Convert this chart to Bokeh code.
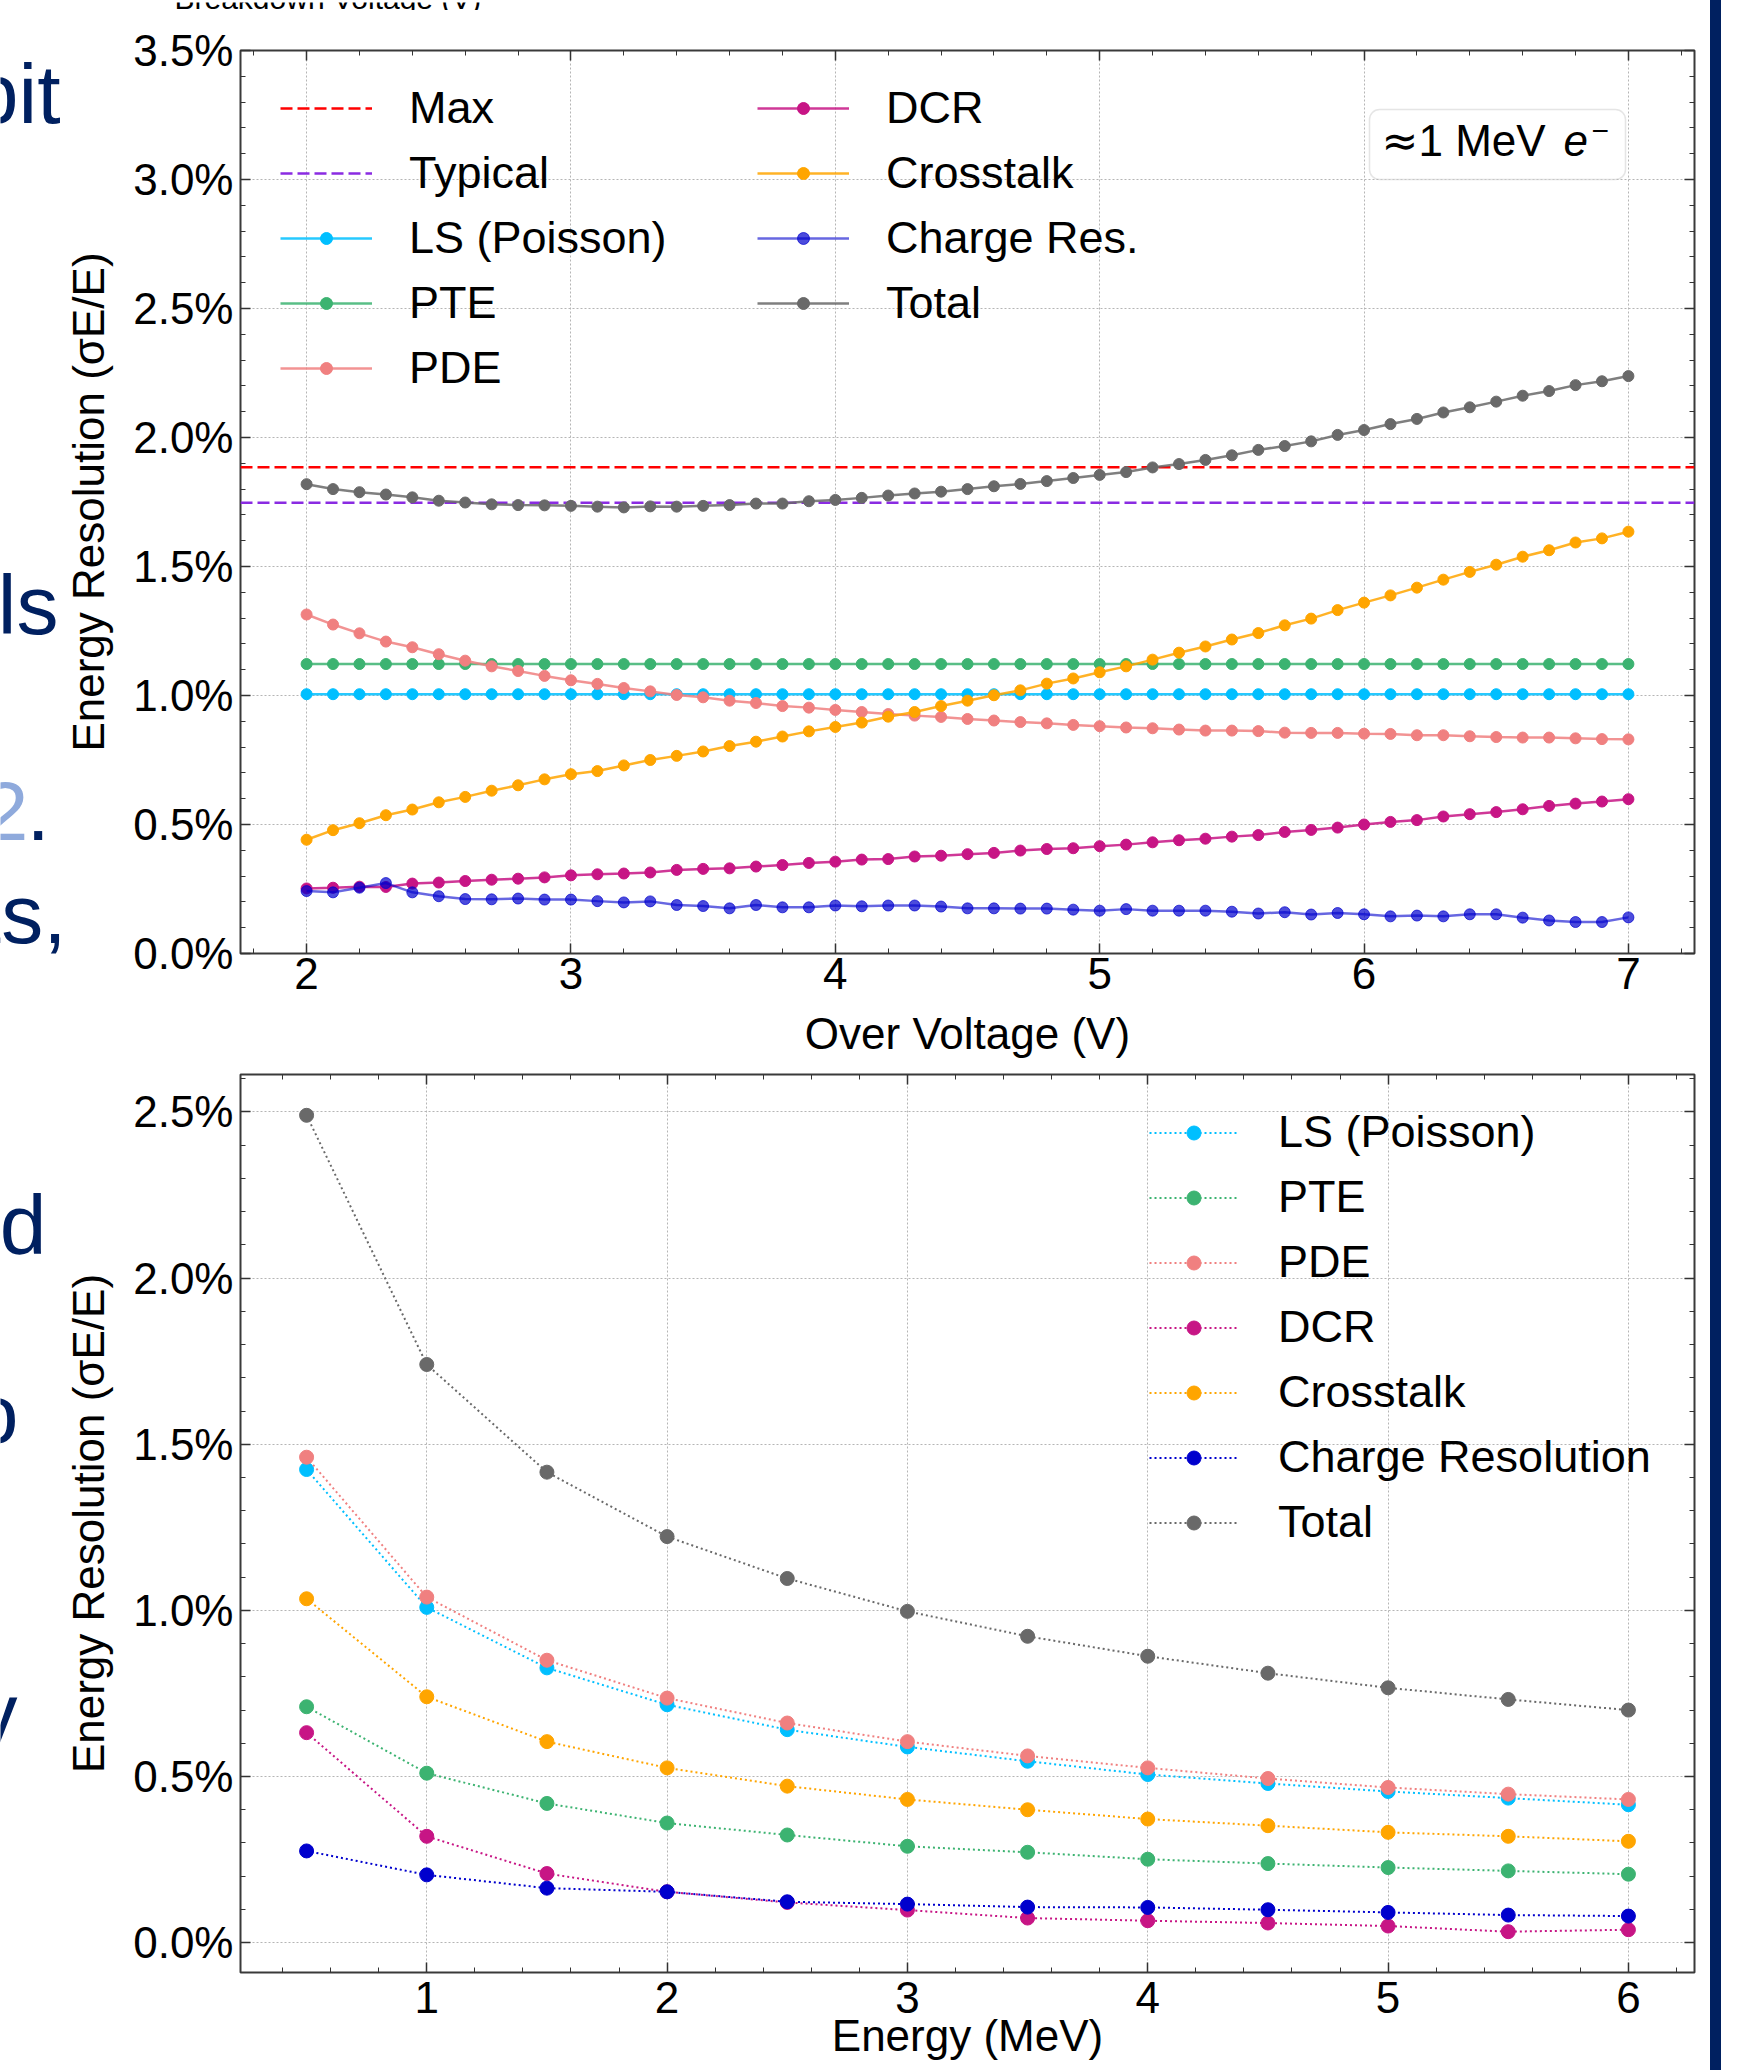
import math
from bokeh.plotting import figure
from bokeh.models import (Legend, LegendItem, Label, BoxAnnotation, SingleIntervalTicker,
                          PrintfTickFormatter, CustomJSTickFormatter, LinearAxis, Range1d, Div)
from bokeh.layouts import row, column
from bokeh.embed import file_html
from bokeh.resources import INLINE
from bokeh.core.properties import value

# ---------------------------------------------------------------- data (top panel)
OVER_VOLTAGE = [2.0, 2.1, 2.2, 2.3, 2.4, 2.5, 2.6, 2.7, 2.8, 2.9,
                3.0, 3.1, 3.2, 3.3, 3.4, 3.5, 3.6, 3.7, 3.8, 3.9,
                4.0, 4.1, 4.2, 4.3, 4.4, 4.5, 4.6, 4.7, 4.8, 4.9,
                5.0, 5.1, 5.2, 5.3, 5.4, 5.5, 5.6, 5.7, 5.8, 5.9,
                6.0, 6.1, 6.2, 6.3, 6.4, 6.5, 6.6, 6.7, 6.8, 6.9, 7.0]

MAX_RES = 1.885
TYPICAL_RES = 1.747

OV_LS = [1.005, 1.005, 1.005, 1.005, 1.005, 1.005, 1.005, 1.005, 1.005, 1.005,
         1.005, 1.005, 1.005, 1.005, 1.005, 1.005, 1.005, 1.005, 1.005, 1.005,
         1.005, 1.005, 1.005, 1.005, 1.005, 1.005, 1.005, 1.005, 1.005, 1.005,
         1.005, 1.005, 1.005, 1.005, 1.005, 1.005, 1.005, 1.005, 1.005, 1.005,
         1.005, 1.005, 1.005, 1.005, 1.005, 1.005, 1.005, 1.005, 1.005, 1.005, 1.005]
OV_PTE = [1.122, 1.122, 1.122, 1.122, 1.122, 1.122, 1.122, 1.122, 1.122, 1.122,
          1.122, 1.122, 1.122, 1.122, 1.122, 1.122, 1.122, 1.122, 1.122, 1.122,
          1.122, 1.122, 1.122, 1.122, 1.122, 1.122, 1.122, 1.122, 1.122, 1.122,
          1.122, 1.122, 1.122, 1.122, 1.122, 1.122, 1.122, 1.122, 1.122, 1.122,
          1.122, 1.122, 1.122, 1.122, 1.122, 1.122, 1.122, 1.122, 1.122, 1.122, 1.122]
OV_PDE = [1.314, 1.275, 1.241, 1.209, 1.187, 1.160, 1.135, 1.113, 1.095, 1.076,
          1.059, 1.045, 1.029, 1.016, 1.002, 0.993, 0.980, 0.971, 0.959, 0.953,
          0.944, 0.936, 0.928, 0.922, 0.917, 0.909, 0.903, 0.897, 0.892, 0.886,
          0.881, 0.876, 0.873, 0.868, 0.864, 0.864, 0.862, 0.856, 0.855, 0.855,
          0.852, 0.851, 0.846, 0.846, 0.842, 0.839, 0.837, 0.837, 0.834, 0.831, 0.830]
OV_DCR = [0.252, 0.255, 0.259, 0.258, 0.271, 0.275, 0.281, 0.286, 0.290, 0.295,
          0.303, 0.307, 0.310, 0.314, 0.324, 0.328, 0.330, 0.337, 0.343, 0.351,
          0.356, 0.364, 0.366, 0.376, 0.379, 0.385, 0.390, 0.399, 0.405, 0.408,
          0.416, 0.422, 0.431, 0.439, 0.445, 0.453, 0.459, 0.471, 0.479, 0.488,
          0.500, 0.510, 0.517, 0.531, 0.540, 0.548, 0.559, 0.572, 0.581, 0.589, 0.598]
OV_XTALK = [0.441, 0.478, 0.505, 0.536, 0.558, 0.586, 0.607, 0.631, 0.652, 0.675,
            0.695, 0.707, 0.729, 0.750, 0.766, 0.783, 0.804, 0.821, 0.841, 0.861,
            0.878, 0.895, 0.918, 0.936, 0.959, 0.980, 1.001, 1.020, 1.046, 1.066,
            1.090, 1.113, 1.139, 1.166, 1.190, 1.217, 1.242, 1.272, 1.298, 1.331,
            1.360, 1.388, 1.418, 1.449, 1.479, 1.507, 1.538, 1.563, 1.593, 1.609, 1.635]
OV_CHARGE = [0.242, 0.237, 0.255, 0.273, 0.237, 0.222, 0.211, 0.210, 0.213, 0.209,
             0.209, 0.203, 0.198, 0.202, 0.188, 0.184, 0.175, 0.188, 0.179, 0.179,
             0.186, 0.183, 0.186, 0.186, 0.182, 0.175, 0.175, 0.174, 0.174, 0.170,
             0.166, 0.172, 0.166, 0.166, 0.166, 0.162, 0.155, 0.160, 0.151, 0.157,
             0.152, 0.144, 0.147, 0.144, 0.152, 0.152, 0.139, 0.128, 0.122, 0.122, 0.140]
OV_TOTAL = [1.819, 1.800, 1.788, 1.779, 1.768, 1.755, 1.748, 1.741, 1.738, 1.737,
            1.735, 1.732, 1.729, 1.733, 1.732, 1.735, 1.738, 1.744, 1.744, 1.753,
            1.758, 1.766, 1.775, 1.783, 1.790, 1.800, 1.811, 1.820, 1.831, 1.843,
            1.855, 1.866, 1.884, 1.897, 1.913, 1.931, 1.952, 1.967, 1.985, 2.010,
            2.029, 2.052, 2.072, 2.097, 2.117, 2.139, 2.162, 2.180, 2.203, 2.218, 2.238]

# ---------------------------------------------------------------- data (bottom panel)
ENERGY = [0.5, 1.0, 1.5, 2.0, 2.5, 3.0, 3.5, 4.0, 4.5, 5.0, 5.5, 6.0]
E_LS = [1.424, 1.009, 0.827, 0.716, 0.641, 0.589, 0.546, 0.506, 0.479, 0.455, 0.435, 0.415]
E_PTE = [0.710, 0.510, 0.419, 0.360, 0.324, 0.290, 0.272, 0.251, 0.238, 0.226, 0.216, 0.206]
E_PDE = [1.461, 1.040, 0.850, 0.736, 0.661, 0.605, 0.562, 0.526, 0.494, 0.467, 0.447, 0.431]
E_DCR = [0.632, 0.320, 0.208, 0.153, 0.121, 0.098, 0.074, 0.066, 0.059, 0.050, 0.033, 0.039]
E_XTALK = [1.035, 0.740, 0.605, 0.526, 0.471, 0.431, 0.400, 0.372, 0.352, 0.332, 0.320, 0.305]
E_CHARGE = [0.276, 0.204, 0.164, 0.153, 0.123, 0.116, 0.107, 0.106, 0.099, 0.091, 0.083, 0.080]
E_TOTAL = [2.490, 1.740, 1.416, 1.222, 1.096, 0.997, 0.922, 0.862, 0.811, 0.767, 0.732, 0.700]

TOP_LABELS = ["Max", "Typical", "LS (Poisson)", "PTE", "PDE",
              "DCR", "Crosstalk", "Charge Res.", "Total"]
BOT_LABELS = ["LS (Poisson)", "PTE", "PDE", "DCR", "Crosstalk", "Charge Resolution", "Total"]
Y_TITLE = "Energy Resolution (σE/E)"

# slide text fragments visible at the left edge of the screenshot
SLIDE_FRAGMENTS = ["bit", "ls", "2", ".", "ts,", "d", "o", "y"]

# ---------------------------------------------------------------- style / geometry
FONT = "Liberation Sans"
NAVY = "#002060"
LIGHT_BLUE = "#8faadc"
C_LS, C_PTE, C_PDE, C_DCR = "#00bfff", "#3cb371", "#f08080", "#c71585"
C_XT, C_CHG, C_TOT = "#ffa500", "#0000cd", "#696969"

STRIP_W = 120          # left strip holds slide fragments and the rotated y titles
STRIP_H = 10
PAGE_H = 2070
MAIN_W = 1710 - STRIP_W
LEFT, RIGHT = 240 - STRIP_W, 16
FRAME_W = MAIN_W - LEFT - RIGHT
TOP_H, TOP_T, TOP_B = 1062, 40, 119
TOP_FH = TOP_H - TOP_T - TOP_B
BOT_H, BOT_T, BOT_B = PAGE_H - STRIP_H - TOP_H, 2, 98
BOT_FH = BOT_H - BOT_T - BOT_B

ROW_H, ROW_GAP = 52, 13
MID = 0.3465   # distance from baseline to text middle, in em


def style_axis(ax):
    ax.axis_line_color = None
    ax.major_tick_in = 10
    ax.major_tick_out = 0
    ax.minor_tick_in = 5
    ax.minor_tick_out = 0
    ax.major_tick_line_color = "#333333"
    ax.minor_tick_line_color = "#333333"
    ax.major_tick_line_width = 1.5
    ax.minor_tick_line_width = 1
    ax.major_label_text_font = FONT
    ax.major_label_text_font_size = "44px"
    ax.major_label_text_color = "black"
    ax.axis_label_text_font = FONT
    ax.axis_label_text_font_size = "44px"
    ax.axis_label_text_font_style = "normal"
    ax.axis_label_text_color = "black"


def make_fig(height, top, bottom, xr, yr, xlabel, tick_standoff, xlabel_standoff):
    p = figure(width=MAIN_W, height=height, x_range=xr, y_range=yr, title=None,
               output_backend="svg", toolbar_location=None,
               min_border_left=LEFT, min_border_right=RIGHT,
               min_border_top=top, min_border_bottom=bottom)
    p.frame_align = False
    p.background_fill_color = "white"
    p.border_fill_color = "white"
    p.outline_line_color = "#3a3a3a"
    p.outline_line_width = 2
    xt = SingleIntervalTicker(interval=1, num_minor_ticks=5)
    yt = SingleIntervalTicker(interval=0.5, num_minor_ticks=5)
    xa = p.xaxis[0]
    ya = p.yaxis[0]
    xa.ticker = xt
    ya.ticker = yt
    ya.formatter = PrintfTickFormatter(format="%.1f%%")
    style_axis(xa)
    style_axis(ya)
    xa.major_label_standoff = tick_standoff
    ya.major_label_standoff = 7
    xa.axis_label = xlabel
    xa.axis_label_standoff = xlabel_standoff
    p.xgrid.ticker = xt
    p.ygrid.ticker = yt
    p.grid.grid_line_color = "#b5b5b5"
    p.grid.grid_line_dash = "2 2"
    p.grid.grid_line_width = 1
    for loc, t in (("above", xt), ("right", yt)):
        ax = LinearAxis(ticker=t, formatter=CustomJSTickFormatter(code="return ''"))
        style_axis(ax)
        ax.major_label_text_font_size = "0px"
        ax.major_label_standoff = 0
        p.add_layout(ax, loc)
    return p


def add_label(p, x, y_base, text, size, color="black", style="normal", font=FONT):
    # y_base: baseline position (screen px above frame bottom); drawn with a middle anchor
    p.add_layout(Label(x=x, y=y_base + MID * size, x_units="screen", y_units="screen",
                       text=text, text_font=font, text_font_size=f"{size}px",
                       text_color=color, text_align="left", text_baseline="middle",
                       text_font_style=style))


def make_legend(items, loc, gw, gh, standoff):
    return Legend(items=items, location=loc, orientation="vertical",
                  glyph_width=gw, glyph_height=gh, label_height=ROW_H,
                  label_standoff=standoff, spacing=ROW_GAP, padding=0, margin=0,
                  border_line_alpha=0, background_fill_alpha=0,
                  label_text_font=FONT, label_text_font_size="45px",
                  label_text_color="black")


def legend_height(n):
    return n * ROW_H + (n - 1) * ROW_GAP


def legend_y(frame_h, n):
    # first row centred 58 px below the frame top
    return frame_h - (58 - ROW_H // 2) - legend_height(n)


def strip_fig(width, height, x0):
    s = figure(width=width, height=height, x_range=Range1d(x0, x0 + width),
               y_range=Range1d(height, 0), title=None, output_backend="svg",
               toolbar_location=None, min_border=0, x_axis_type=None, y_axis_type=None)
    s.frame_align = False
    s.outline_line_color = None
    s.background_fill_color = "white"
    s.border_fill_color = "white"
    s.grid.visible = False
    return s


def frag(s, x, y_base, text, size, color, align):
    # y_base: page baseline (y grows downward in the strips)
    s.text(x=[x], y=[y_base - MID * size], text=[text], text_font=value(FONT),
           text_font_size=value(f"{size}px"), text_color=color, text_align=align,
           text_baseline="middle")


def rotated_title(s, x, y_mid, text):
    s.text(x=[x], y=[y_mid], text=[text], angle=math.pi / 2, text_font=value(FONT),
           text_font_size=value("44px"), text_color="black", text_align="center",
           text_baseline="middle")


# ---------------------------------------------------------------- top panel
pad = 0.05 * (max(OVER_VOLTAGE) - min(OVER_VOLTAGE))
x_lo, x_hi = min(OVER_VOLTAGE) - pad, max(OVER_VOLTAGE) + pad
p1 = make_fig(TOP_H, TOP_T, TOP_B, Range1d(x_lo, x_hi), Range1d(0, 3.5),
              "Over Voltage (V)", 4, 17)

r_max = p1.line([x_lo, x_hi], [MAX_RES, MAX_RES], line_color="#ff0000",
                line_width=2.5, line_dash="12 5")
r_typ = p1.line([x_lo, x_hi], [TYPICAL_RES, TYPICAL_RES], line_color="#8a2be2",
                line_width=2.5, line_dash="12 5")


def top_series(y, color, alpha=1.0):
    l = p1.line(OVER_VOLTAGE, y, line_color=color, line_width=2.5, line_alpha=0.85 * alpha)
    s = p1.scatter(OVER_VOLTAGE, y, size=11, marker="circle", fill_color=color,
                   line_color=color, fill_alpha=alpha, line_alpha=alpha)
    return [l, s]


top_r = [top_series(OV_LS, C_LS), top_series(OV_PTE, C_PTE), top_series(OV_PDE, C_PDE),
         top_series(OV_DCR, C_DCR), top_series(OV_XTALK, C_XT),
         top_series(OV_CHARGE, C_CHG, alpha=0.7), top_series(OV_TOTAL, C_TOT)]
top_rends = [[r_max], [r_typ]] + top_r

items1 = [LegendItem(label=TOP_LABELS[i], renderers=top_rends[i]) for i in range(5)]
items2 = [LegendItem(label=TOP_LABELS[i], renderers=top_rends[i]) for i in range(5, 9)]
p1.add_layout(make_legend(items1, (40, legend_y(TOP_FH, 5)), 92, 30, 37), "center")
p1.add_layout(make_legend(items2, (517, legend_y(TOP_FH, 4)), 92, 30, 37), "center")

# annotation box "≈1 MeV e−"
p1.add_layout(BoxAnnotation(left=1129, right=1385, top=TOP_FH - 59, bottom=TOP_FH - 129,
                            left_units="screen", right_units="screen",
                            top_units="screen", bottom_units="screen",
                            fill_color="white", fill_alpha=0.85, line_color="#a8a8a8",
                            line_width=1.5, border_radius=10))
add_label(p1, 1141, TOP_FH - 105, "≈", 44, font="DejaVu Sans")
add_label(p1, 1178, TOP_FH - 105, "1 MeV", 44)
add_label(p1, 1323, TOP_FH - 105, "e", 44, style="italic")
add_label(p1, 1351, TOP_FH - 91, "−", 30)

# ---------------------------------------------------------------- bottom panel
xpad = 0.05 * (max(ENERGY) - min(ENERGY))
all_y = E_LS + E_PTE + E_PDE + E_DCR + E_XTALK + E_CHARGE + E_TOTAL
ypad = 0.05 * (max(all_y) - min(all_y))
p2 = make_fig(BOT_H, BOT_T, BOT_B,
              Range1d(min(ENERGY) - xpad, max(ENERGY) + xpad),
              Range1d(min(all_y) - ypad, max(all_y) + ypad), "Energy (MeV)", 9, -5)


def bot_series(y, color):
    l = p2.line(ENERGY, y, line_color=color, line_width=2, line_dash="2 3")
    s = p2.scatter(ENERGY, y, size=14, marker="circle", fill_color=color, line_color=color)
    return [l, s]


bot_r = [bot_series(E_LS, C_LS), bot_series(E_PTE, C_PTE), bot_series(E_PDE, C_PDE),
         bot_series(E_DCR, C_DCR), bot_series(E_XTALK, C_XT), bot_series(E_CHARGE, C_CHG),
         bot_series(E_TOTAL, C_TOT)]
items3 = [LegendItem(label=BOT_LABELS[i], renderers=bot_r[i]) for i in range(7)]
p2.add_layout(make_legend(items3, (909, legend_y(BOT_FH, 7)), 89, 35, 40), "center")

# ---------------------------------------------------------------- left strip
left_strip = strip_fig(STRIP_W, PAGE_H, 0)
frag(left_strip, 60, 123, SLIDE_FRAGMENTS[0], 84, NAVY, "right")
frag(left_strip, 58, 634, SLIDE_FRAGMENTS[1], 84, NAVY, "right")
frag(left_strip, 28, 840, SLIDE_FRAGMENTS[2], 84, LIGHT_BLUE, "right")
frag(left_strip, 26, 840, SLIDE_FRAGMENTS[3], 84, NAVY, "left")
frag(left_strip, 66, 943, SLIDE_FRAGMENTS[4], 84, NAVY, "right")
frag(left_strip, 46, 1254, SLIDE_FRAGMENTS[5], 84, NAVY, "right")
frag(left_strip, 18, 1443, SLIDE_FRAGMENTS[6], 84, NAVY, "right")
frag(left_strip, 17, 1742, SLIDE_FRAGMENTS[7], 84, NAVY, "right")

# rotated y-axis titles, centred on each frame
top_mid = STRIP_H + TOP_T + TOP_FH / 2
bot_mid = STRIP_H + TOP_H + BOT_T + BOT_FH / 2
rotated_title(left_strip, 88, top_mid, Y_TITLE)
rotated_title(left_strip, 88, bot_mid, Y_TITLE)

# ---------------------------------------------------------------- top strip
top_strip = strip_fig(MAIN_W, STRIP_H, STRIP_W)
frag(top_strip, 174, 6, "Breakdown Voltage (V)", 30, "black", "left")

bar = Div(width=11, height=PAGE_H, margin=0, styles={"background-color": NAVY})
layout = row(left_strip, column(top_strip, p1, p2), bar)

open("out.html", "w").write(file_html(layout, INLINE))
